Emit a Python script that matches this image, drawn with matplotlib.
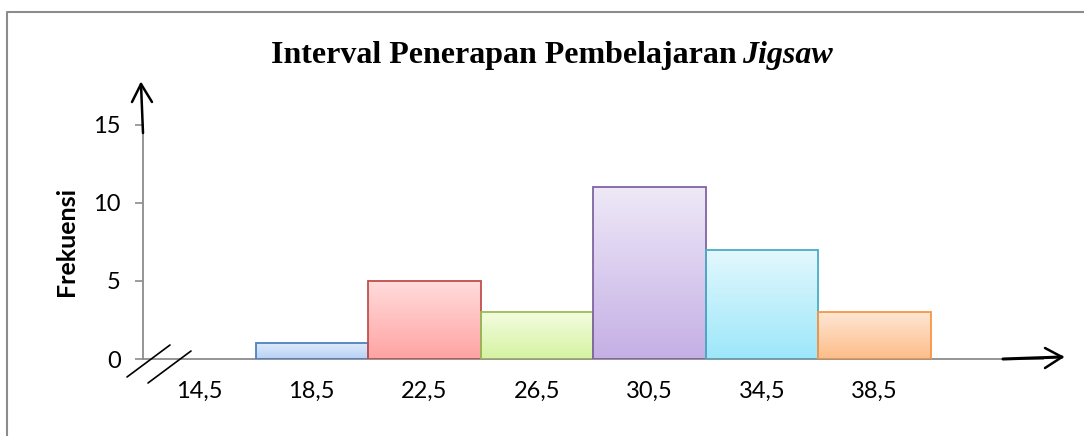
import numpy as np
import matplotlib.pyplot as plt
from matplotlib.lines import Line2D
from matplotlib.colors import LinearSegmentedColormap

# data
labels = ['14,5', '18,5', '22,5', '26,5', '30,5', '34,5', '38,5']
frekuensi = [1, 5, 3, 11, 7, 3]   # bars start at the 18,5 slot
bar_start = 1
top_colors = ['#dde9fb', '#ffdcdc', '#f3fcde', '#eee8f7', '#e3f8fd', '#fee6d4']
bottom_colors = ['#b8d2f6', '#ffa3a3', '#d5f3a2', '#c5b0e5', '#9de7fa', '#fdbd88']
edge_colors = ['#4f81bd', '#c0504d', '#9bbb59', '#8064a2', '#4bacc6', '#f79646']

W, H = 1084, 436
fig = plt.figure(figsize=(W / 100, H / 100), dpi=100)
ax = fig.add_axes([143 / W, 1 - 359 / H, 900 / W, 234.5 / H])


def px(x, y):
    # pixel pos -> figure fraction
    return x / W, 1 - y / H


# bars with vertical gradient
grad = np.linspace(0, 1, 64).reshape(-1, 1)
for i, v in enumerate(frekuensi):
    x0 = bar_start + i
    cmap = LinearSegmentedColormap.from_list('g%d' % i, [bottom_colors[i], top_colors[i]])
    ax.imshow(grad, extent=[x0, x0 + 1, 0, v], origin='lower', cmap=cmap,
              aspect='auto', interpolation='bilinear', zorder=2)
    ax.bar(x0, v, width=1, align='edge', facecolor='none',
           edgecolor=edge_colors[i], linewidth=1.3, zorder=3)

ax.set_xlim(0, 8)
ax.set_ylim(0, 15)
ax.set_yticks([0, 5, 10, 15])
ax.set_xticks(np.arange(len(labels)) + 0.5)
ax.set_xticklabels(labels)

for s in ['top', 'right']:
    ax.spines[s].set_visible(False)
for s in ['left', 'bottom']:
    ax.spines[s].set_color('#8c8c8c')
    ax.spines[s].set_linewidth(1.3)

ax.tick_params(axis='y', length=6, width=1.2, color='#8c8c8c', pad=10, labelsize=17)
ax.tick_params(axis='x', length=0, pad=16, labelsize=17)
for t in ax.get_xticklabels() + ax.get_yticklabels():
    t.set_fontfamily('Lato')

ax.set_ylabel('Frekuensi', fontsize=18, fontweight='bold', fontfamily='Lato')
ax.yaxis.set_label_coords(-0.072, 0.5)

# arrows and axis break marks
def fig_line(pts, color='black', lw=1.8):
    xs, ys = zip(*[px(*p) for p in pts])
    fig.add_artist(Line2D(xs, ys, color=color, linewidth=lw, solid_capstyle='round'))

fig_line([(143, 133), (141, 84)])
fig_line([(132, 102), (141, 84), (152, 102)])
fig_line([(1003, 359), (1062, 357)], lw=2.2)
fig_line([(1045, 348), (1062, 357), (1045, 368)])
fig_line([(127, 377), (170, 345)], lw=1.2)
fig_line([(148, 383), (191, 351)], lw=1.2)

# outer frame (clipped by the image edge)
fig_line([(7, 436), (7, 12), (1084, 12)], color='#8c8c8c', lw=1.5)

# title: regular bold part + italic bold part
tx, ty = px(737, 56)
fig.text(tx, ty, 'Interval Penerapan Pembelajaran', ha='right', va='center',
         fontsize=23, fontweight='bold', fontfamily='Liberation Serif')
tx2, _ = px(742, 56)
fig.text(tx2, ty, 'Jigsaw', ha='left', va='center', fontsize=23,
         fontweight='bold', fontstyle='italic', fontfamily='Liberation Serif')

fig.savefig('out.png', dpi=100)
